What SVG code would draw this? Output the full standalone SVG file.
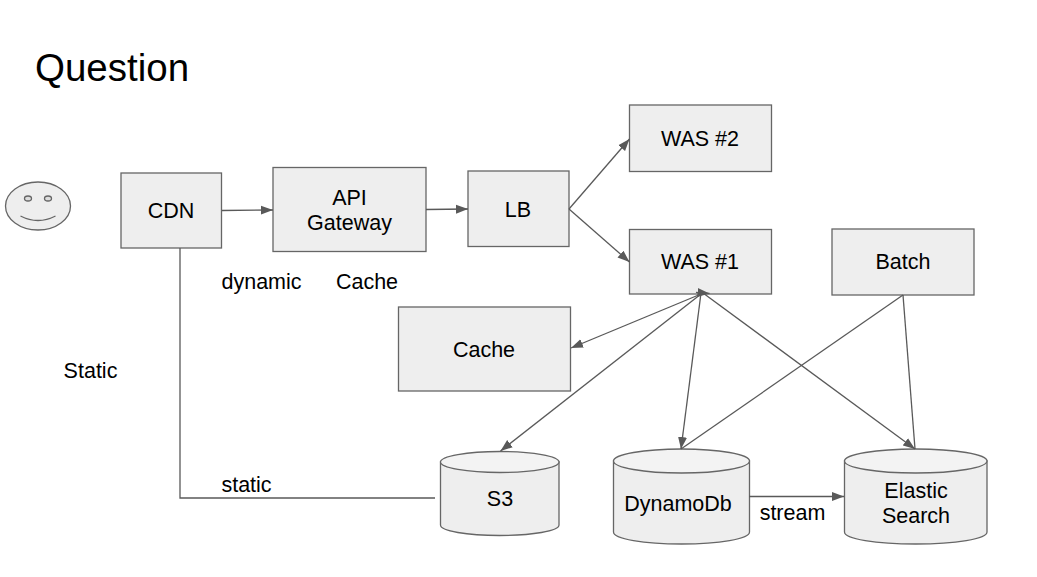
<svg xmlns="http://www.w3.org/2000/svg" width="1037" height="577" viewBox="0 0 1037 577">
<style>
text{font-family:"Liberation Sans",Arial,sans-serif;font-size:21.5px;fill:#000;text-anchor:middle}
.b{fill:#eeeeee;stroke:#666;stroke-width:1.3}
.t{fill:#f3f3f3;stroke:#666;stroke-width:1.3}
.n{fill:none;stroke:#666;stroke-width:1.3}
.c{fill:none;stroke:#595959;stroke-width:1.3}
.a{marker-end:url(#ah)}
</style>
<defs><marker id="ah" markerUnits="userSpaceOnUse" markerWidth="13" markerHeight="10" refX="12" refY="5" orient="auto"><path d="M0 .5L12 5L0 9.500Z" fill="#595959"/></marker></defs>
<rect width="1037" height="577" fill="#fff"/>
<text x="35" y="81" style="font-size:38.5px;text-anchor:start">Question</text>
<g id="user"><ellipse class="b" cx="38" cy="206" rx="32.5" ry="24"/><ellipse class="n" style="fill:#ddd" cx="28" cy="198.500" rx="3.500" ry="2.500"/><ellipse class="n" style="fill:#ddd" cx="48" cy="198.500" rx="3.500" ry="2.500"/><path class="n" d="M20.500 216Q38 225 55.500 216"/></g>
<g id="cdn"><rect class="b" x="121" y="173" width="100.500" height="75"/><text x="171" y="218">CDN</text></g>
<g id="api"><rect class="b" x="273" y="167.500" width="153" height="84"/><text x="349.500" y="205">API</text><text x="349.500" y="230">Gateway</text></g>
<g id="lb"><rect class="b" x="468" y="171" width="101" height="75.500"/><text x="518" y="217">LB</text></g>
<g id="was2"><rect class="b" x="629.500" y="105" width="142" height="66.500"/><text x="700" y="146">WAS #2</text></g>
<g id="was1"><rect class="b" x="629.500" y="229.500" width="142" height="64.500"/><text x="700" y="269">WAS #1</text></g>
<g id="batch"><rect class="b" x="832" y="229" width="142" height="66"/><text x="903" y="269">Batch</text></g>
<g id="cache"><rect class="b" x="398.500" y="307" width="172" height="84"/><text x="484" y="357">Cache</text></g>
<g id="s3"><path class="b" d="M440.500 462V525C440.500 531 467 535.500 499.500 535.500S559 531 559 525V462Z"/><ellipse class="t" cx="499.750" cy="462" rx="59.250" ry="10.500"/><text x="500" y="506">S3</text></g>
<g id="dynamodb"><path class="b" d="M613.500 461V532C613.500 539 644 544 681.500 544S749.500 539 749.500 532V461Z"/><ellipse class="t" cx="681.500" cy="461" rx="68" ry="12"/><text x="678" y="511">DynamoDb</text></g>
<g id="elastic"><path class="b" d="M844.500 461V532C844.500 539 876 544 915.750 544S987 539 987 532V461Z"/><ellipse class="t" cx="915.750" cy="461" rx="71.250" ry="12"/><text x="916" y="498">Elastic</text><text x="916" y="523">Search</text></g>
<g id="connectors">
<path class="c a" d="M222 210.500L273 210"/>
<path class="c a" d="M426 209.500L468 209"/>
<path class="c a" d="M569 209L629.500 139"/>
<path class="c a" d="M569 209L629.500 262"/>
<path class="c a" d="M701 294L571 348"/>
<path class="c a" d="M701 294L500.500 451"/>
<path class="c a" d="M701 293L681 449"/>
<path class="c a" d="M696 292.400L709.500 293.500"/>
<path class="c a" d="M703 293L915 449"/>
<path class="c" d="M903 295L681 449"/>
<path class="c" d="M903 295L915 449"/>
<path class="c a" d="M749 496.500L844 496.500"/>
<path class="c" d="M180 248V498H435"/>
</g>
<g id="labels">
<text x="261.500" y="289">dynamic</text>
<text x="367" y="289">Cache</text>
<text x="90.500" y="378">Static</text>
<text x="246.500" y="492">static</text>
<text x="792.500" y="519.500">stream</text>
</g>
</svg>
